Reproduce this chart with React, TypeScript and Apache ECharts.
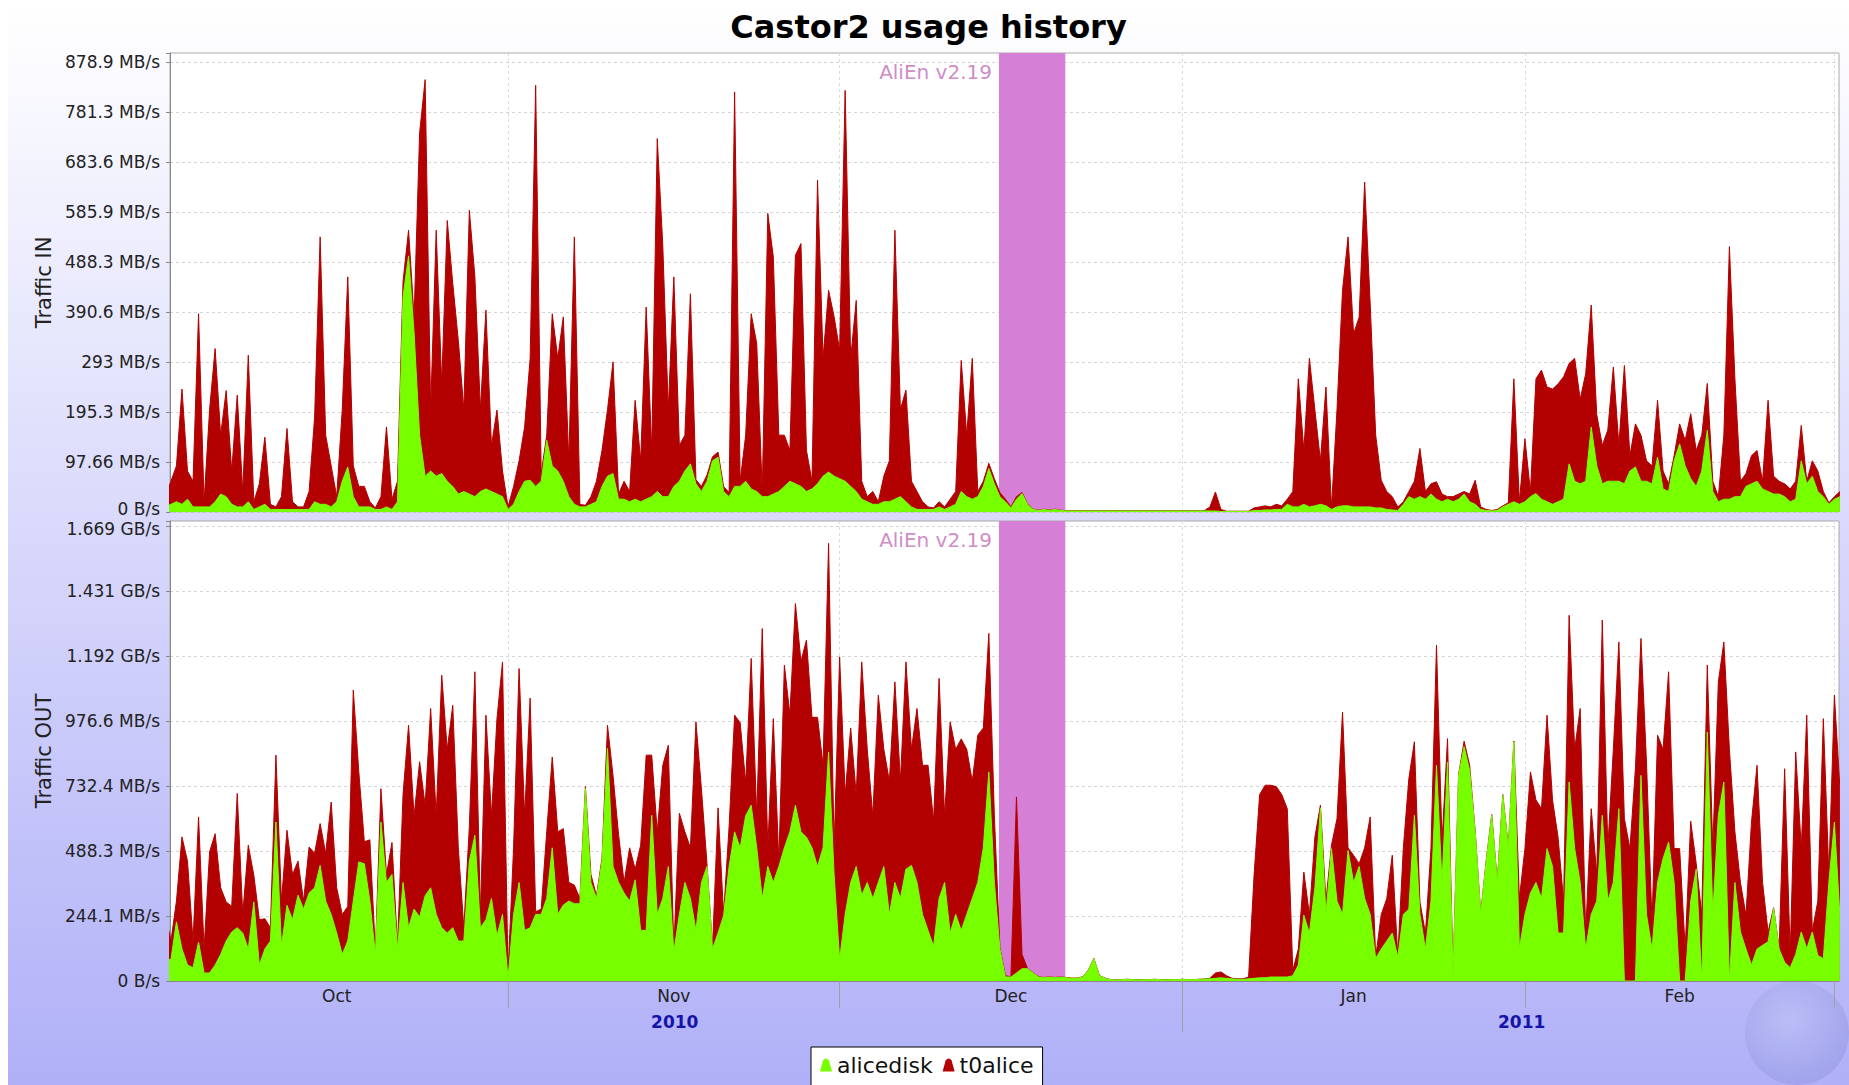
import React, { useEffect, useRef } from 'react';
import * as echarts from 'echarts';

// ---- time grid: one sample every 12 hours, starting 2010-10-01 00:00 UTC ----
const START = Date.UTC(2010, 9, 1, 0, 0);
const STEP_MS = 12 * 3600 * 1000;
const X_MIN = Date.UTC(2010, 9, 1, 10);
const X_MAX = Date.UTC(2011, 2, 1, 10);

const seriesNames = ['alicedisk', 't0alice'];
const panelNames = ['Traffic IN', 'Traffic OUT'];
const chartTitle = 'Castor2 usage history';
const monthLabels = ['Oct', 'Nov', 'Dec', 'Jan', 'Feb'];
const yearLabels = ['2010', '2011'];
const annotationText = 'AliEn v2.19';
const annotationStart = Date.UTC(2010, 11, 15, 10);
const annotationEnd = Date.UTC(2010, 11, 21, 10);

// values in MB/s
const inAlicedisk = [
  10,15,20,15,25,10,10,10,10,20,
  35,30,15,10,10,20,5,10,15,5,
  5,5,5,5,5,5,5,20,15,15,
  10,20,60,88,30,10,10,10,5,5,
  10,5,20,420,500,350,150,70,80,70,
  75,60,50,35,40,35,30,40,45,40,
  35,30,5,15,40,60,62,50,60,140,
  90,80,60,30,15,10,10,15,20,50,
  70,75,25,25,20,25,20,25,30,40,
  30,30,50,60,80,94,55,40,60,100,
  107,40,30,50,50,60,45,40,30,30,
  35,40,50,60,55,50,40,45,55,70,
  78,70,65,60,50,40,25,20,15,15,
  20,20,25,30,20,10,5,5,5,5,
  10,5,10,15,40,30,25,30,50,85,
  55,30,20,8,25,36,15,5,3,5,
  3,5,3,2,2,2,2,2,2,2,
  2,2,2,2,2,2,2,2,2,2,
  2,2,2,2,2,2,2,2,2,2,
  2,1,1,1,1,1,1,3,3,4,
  4,5,5,15,10,10,15,10,12,15,
  12,5,10,12,12,10,10,10,10,8,
  8,5,4,3,15,30,25,30,25,35,
  25,20,25,20,25,35,20,15,5,3,
  2,3,10,15,20,15,20,30,36,25,
  20,15,20,25,94,60,55,60,166,90,
  55,60,60,60,55,80,88,60,60,55,
  107,45,40,100,133,90,65,50,80,160,
  40,20,25,25,30,30,50,55,60,45,
  40,35,35,30,20,25,100,55,70,40,
  30,15,25,30,
];

const inT0alice = [
  20,45,70,225,55,50,377,10,190,299,
  115,207,65,218,30,286,15,45,131,10,
  5,25,158,15,5,5,35,165,522,135,
  80,10,140,371,60,40,40,10,3,25,
  156,20,40,30,50,30,590,774,120,480,
  175,509,396,300,160,554,429,160,349,90,
  164,50,5,35,60,106,238,783,15,10,
  297,220,321,70,522,5,3,15,40,70,
  130,218,10,35,20,193,80,375,90,689,
  491,170,409,70,70,332,8,10,12,8,
  10,10,8,770,10,90,342,289,10,553,
  463,110,100,60,446,474,80,15,593,230,
  355,311,251,763,250,373,35,10,25,5,
  50,80,525,170,218,50,35,15,5,3,
  10,5,15,25,256,120,275,10,10,10,
  10,8,5,2,5,2,1,0.5,0.5,0.5,
  0.5,0.5,0.5,0.5,0.5,0.5,0.5,0.5,0.5,0.5,
  0.5,0.5,0.5,0.5,0.5,0.5,0.5,0.5,0.5,0.5,
  0.5,0.5,0.5,0.5,0.5,0.5,0.5,0.5,0.5,8,
  37,4,0.5,0.5,0.5,0.5,0.5,5,7,8,
  6,10,7,10,30,250,105,290,187,85,
  232,3,190,421,525,338,370,634,397,142,
  54,35,26,7,5,10,35,94,15,20,
  34,15,5,10,10,5,15,47,5,2,
  1,2,2,3,240,5,123,10,224,252,
  224,225,230,239,196,240,165,210,238,100,
  75,100,223,70,231,30,84,90,40,35,
  111,35,15,10,39,50,127,70,70,91,
  20,10,125,493,230,30,25,55,60,15,
  178,35,25,25,25,35,69,5,30,40,
  10,3,5,10,
];

const outAlicedisk = [
  84,80,222,120,60,50,146,30,30,60,
  100,150,184,200,180,120,297,60,120,150,
  597,130,284,230,322,270,330,350,434,300,
  250,180,100,150,300,447,440,300,100,597,
  370,400,120,370,200,270,240,320,350,250,
  200,180,200,150,150,450,547,200,230,310,
  170,250,10,250,370,190,200,250,250,310,
  500,250,285,300,290,290,722,370,310,450,
  873,430,370,330,300,380,190,190,622,250,
  310,430,110,250,370,310,190,370,430,120,
  180,245,430,560,500,620,660,500,310,430,
  370,430,500,560,660,560,540,500,430,500,
  860,400,80,250,370,430,322,370,310,370,
  430,250,370,310,420,434,370,250,190,130,
  310,370,180,250,190,250,310,370,500,785,
  370,120,15,15,30,46,46,30,15,12,
  15,12,15,12,10,10,15,40,84,20,
  10,5,4,5,6,5,4,5,5,6,
  5,4,5,5,6,5,5,6,7,8,
  10,12,10,8,6,6,8,10,12,12,
  15,15,15,15,20,60,247,180,350,650,
  250,497,300,250,490,370,430,310,250,85,
  120,150,180,90,250,270,622,250,120,300,
  810,370,822,20,772,880,790,560,250,450,
  622,370,697,500,898,120,250,330,370,310,
  497,430,180,180,747,497,370,120,250,300,
  622,300,370,647,0,0,0,772,250,120,
  370,460,522,370,0,0,300,420,0,935,
  250,622,747,0,370,184,120,60,120,134,
  147,272,120,70,50,100,184,122,184,96,
  84,370,597,245,
];

const outT0alice = [
  166,70,78,421,390,100,470,91,455,493,
  250,147,96,504,70,390,100,170,114,50,
  251,170,282,170,128,30,173,130,157,180,
  422,170,150,130,792,338,83,230,10,125,
  30,120,10,330,760,350,583,340,673,370,
  948,690,835,350,50,130,614,50,768,310,
  815,948,20,250,803,430,862,10,20,250,
  341,310,287,70,70,20,8,30,10,10,
  87,340,180,40,200,40,320,658,226,310,
  500,455,10,380,190,190,783,350,10,5,
  470,5,150,438,470,125,551,120,1013,70,
  615,20,686,440,757,640,740,490,560,310,
  783,100,1137,450,580,270,876,500,310,703,
  440,500,753,440,778,436,653,560,620,470,
  826,250,793,620,719,620,440,553,450,520,
  250,5,5,1,661,54,1,1,1,1,
  1,1,1,1,1,1,1,1,1,1,
  1,0.5,0.5,0.5,0.5,0.5,0.5,0.5,0.5,0.5,
  0.5,0.5,0.5,0.5,0.5,0.5,0.5,0.5,0.5,2,
  20,22,10,2,2,2,7,390,688,723,
  720,715,685,632,20,60,162,70,191,10,
  50,13,310,760,10,102,10,190,366,5,
  130,159,292,3,250,490,276,47,60,197,
  451,152,88,10,3,20,20,3,3,3,
  3,3,3,3,3,190,247,455,310,337,
  501,250,360,120,626,373,653,60,397,100,
  733,200,500,626,610,497,800,514,572,100,
  553,410,639,127,497,122,300,20,250,251,
  247,501,526,870,190,186,127,537,690,236,
  37,3,3,727,50,760,316,876,3,204,
  901,30,476,477,
];

// axis layout (not data)
const IN_STEP = 97.65625;
const OUT_STEP = 244.140625;
const IN_MAX = 896;
const OUT_MAX = 1727;
const monthStarts = [
  Date.UTC(2010, 10, 1), Date.UTC(2010, 11, 1), Date.UTC(2011, 0, 1),
  Date.UTC(2011, 1, 1), Date.UTC(2011, 2, 1),
];
const monthLabelPos = [
  Date.UTC(2010, 9, 16, 12), Date.UTC(2010, 10, 16), Date.UTC(2010, 11, 16, 12),
  Date.UTC(2011, 0, 16, 12), Date.UTC(2011, 1, 15),
];
const yearTicks = [Date.UTC(2011, 0, 1)];
const yearLabelPos = [Date.UTC(2010, 10, 16, 2), Date.UTC(2011, 0, 31, 17)];

const GREEN = '#77ff00';
const RED = '#b30000';
const FONT = 'DejaVu Sans';

const toPairs = (arr: number[]) => arr.map((v, i) => [START + i * STEP_MS, v]);
// stacked top of the second layer = first layer + second layer (stack table)
const stackTop = (base: number[], over: number[]) => base.map((v, i) => v + over[i]);

const trimNum = (s: string) => (s.indexOf('.') >= 0 ? s.replace(/\.?0+$/, '') : s);
const fmtRate = (v: number) => {
  if (Math.abs(v) < 1e-9) return '0 B/s';
  if (v >= 1000) return trimNum((v / 1024).toPrecision(4)) + ' GB/s';
  return trimNum(v.toPrecision(4)) + ' MB/s';
};
// nudge the two labels where the panels meet ("0 B/s" of the top panel, top label of the bottom panel)
const tickFormatter = (step: number, max: number, nudge: 'lo' | 'hi') => (v: number) => {
  const k = v / step;
  if (Math.abs(k - Math.round(k)) > 1e-4) return '';
  const s = fmtRate(v);
  if (nudge === 'lo' && Math.abs(v) < 1e-9) return '{lo|' + s + '}';
  if (nudge === 'hi' && v + step > max) return '{hi|' + s + '}';
  return s;
};
const nearestLabel = (positions: number[], labels: string[]) => (v: number) => {
  let best = 0;
  for (let i = 1; i < positions.length; i++) {
    if (Math.abs(positions[i] - v) < Math.abs(positions[best] - v)) best = i;
  }
  return labels[best];
};

function buildOption() {
  const gridLine = { show: true, lineStyle: { color: '#d4d4d4', type: [3, 3] as any, width: 1 } };
  const vGridLine = { show: true, lineStyle: { color: '#dcdcdc', type: [3, 3] as any, width: 1 } };
  const labelFont = { fontSize: 17, color: '#222', fontFamily: FONT };

  const yAxisBase = (gridIndex: number, name: string, step: number, max: number, nudge: 'lo' | 'hi') => ({
    gridIndex,
    type: 'value',
    min: 0,
    max,
    interval: step,
    name,
    nameLocation: 'middle',
    nameGap: 115,
    nameTextStyle: { fontSize: 21, color: '#222', fontFamily: FONT },
    axisLine: { show: true, lineStyle: { color: '#888', width: 1 } },
    axisTick: { show: true, length: 4, lineStyle: { color: '#888' } },
    axisLabel: {
      ...labelFont,
      lineHeight: 13,
      margin: 10,
      formatter: tickFormatter(step, max, nudge),
      rich: {
        lo: { ...labelFont, lineHeight: 13, padding: [0, 0, 6, 0] },
        hi: { ...labelFont, lineHeight: 13, padding: [6, 0, 0, 0] },
      },
    },
    splitLine: gridLine,
  });

  const markArea = {
    silent: true,
    itemStyle: { color: '#d67fd6' },
    label: {
      show: true,
      position: [-7, 9],
      align: 'right',
      verticalAlign: 'top',
      color: '#cf8cc7',
      fontSize: 20,
      fontFamily: FONT,
      formatter: annotationText,
    },
    data: [[{ name: annotationText, xAxis: annotationStart }, { xAxis: annotationEnd }]],
  };

  const areaSeries = (name: string, color: string, data: number[], xi: number, z: number, withMark: boolean) => ({
    name,
    type: 'line',
    xAxisIndex: xi,
    yAxisIndex: xi,
    data: toPairs(data),
    symbol: 'none',
    showSymbol: false,
    smooth: false,
    lineStyle: { width: 1, color },
    itemStyle: { color },
    areaStyle: { color, opacity: 1 },
    z,
    ...(withMark ? { markArea } : {}),
  });

  return {
    animation: false,
    backgroundColor: {
      type: 'linear', x: 0, y: 0, x2: 0, y2: 1,
      colorStops: [{ offset: 0, color: '#ffffff' }, { offset: 1, color: '#b0b0f8' }],
    },
    textStyle: { fontFamily: FONT },
    title: {
      text: chartTitle,
      left: 'center',
      top: 3,
      padding: 0,
      textStyle: { fontSize: 32, fontWeight: 'bold', color: '#000', fontFamily: FONT },
    },
    legend: {
      data: seriesNames,
      left: 803,
      top: 1039,
      orient: 'horizontal',
      backgroundColor: '#ffffff',
      borderColor: '#000',
      borderWidth: 1,
      padding: [7, 9, 12, 9],
      itemGap: 10,
      itemWidth: 12,
      itemHeight: 14,
      icon: 'path://M0,14 L3,3 Q6,-1 9,3 L12,14 Z',
      textStyle: { fontSize: 22, color: '#111', fontFamily: FONT },
    },
    grid: [
      { left: 162, right: 10, top: 45, height: 459, show: true, backgroundColor: '#fff', borderColor: '#a8a8a8', borderWidth: 1 },
      { left: 162, right: 10, top: 513, height: 460, show: true, backgroundColor: '#fff', borderColor: '#a8a8a8', borderWidth: 1 },
    ],
    xAxis: [
      {
        gridIndex: 0, type: 'value', min: X_MIN, max: X_MAX,
        axisLine: { show: false },
        axisTick: { show: false, customValues: monthStarts },
        axisLabel: { show: false, customValues: monthLabelPos },
        splitLine: vGridLine,
      },
      {
        gridIndex: 1, type: 'value', min: X_MIN, max: X_MAX, position: 'bottom',
        axisLine: { show: true, lineStyle: { color: '#888' } },
        axisTick: { show: true, length: 27, customValues: monthStarts, lineStyle: { color: '#a0a0a0' } },
        axisLabel: {
          customValues: monthLabelPos, fontSize: 17, color: '#222', margin: 6, fontFamily: FONT,
          formatter: nearestLabel(monthLabelPos, monthLabels),
        },
        splitLine: vGridLine,
      },
      {
        gridIndex: 1, type: 'value', min: X_MIN, max: X_MAX, position: 'bottom',
        axisLine: { show: false },
        axisTick: { show: true, length: 51, customValues: yearTicks, lineStyle: { color: '#a0a0a0' } },
        axisLabel: {
          customValues: yearLabelPos, fontSize: 17, fontWeight: 'bold', color: '#1414aa', margin: 32, fontFamily: FONT,
          formatter: nearestLabel(yearLabelPos, yearLabels),
        },
        splitLine: { show: false },
      },
    ],
    yAxis: [
      yAxisBase(0, panelNames[0], IN_STEP, IN_MAX, 'lo'),
      yAxisBase(1, panelNames[1], OUT_STEP, OUT_MAX, 'hi'),
    ],
    series: [
      // t0alice layer drawn as the stacked top (alicedisk + t0alice), alicedisk drawn over it
      areaSeries(seriesNames[1], RED, stackTop(inAlicedisk, inT0alice), 0, 2, true),
      areaSeries(seriesNames[0], GREEN, inAlicedisk, 0, 3, false),
      areaSeries(seriesNames[1], RED, stackTop(outAlicedisk, outT0alice), 1, 2, true),
      areaSeries(seriesNames[0], GREEN, outAlicedisk, 1, 3, false),
    ],
    graphic: [
      {
        type: 'circle',
        z: 0,
        silent: true,
        shape: { cx: 1789, cy: 1025, r: 52 },
        style: {
          fill: {
            type: 'radial', x: 0.42, y: 0.38, r: 0.65,
            colorStops: [
              { offset: 0, color: 'rgba(190,196,244,0.6)' },
              { offset: 0.7, color: 'rgba(160,164,232,0.55)' },
              { offset: 1, color: 'rgba(140,144,222,0.45)' },
            ],
          },
        },
      },
    ],
  };
}

export default function App() {
  const ref = useRef<HTMLDivElement>(null);
  useEffect(() => {
    if (!ref.current) return;
    const chart = echarts.init(ref.current, null, { renderer: 'svg' });
    chart.setOption(buildOption() as any);
    return () => chart.dispose();
  }, []);
  return <div ref={ref} style={{ position: 'absolute', left: 8, top: 8, width: 1841, height: 1077 }} />;
}
